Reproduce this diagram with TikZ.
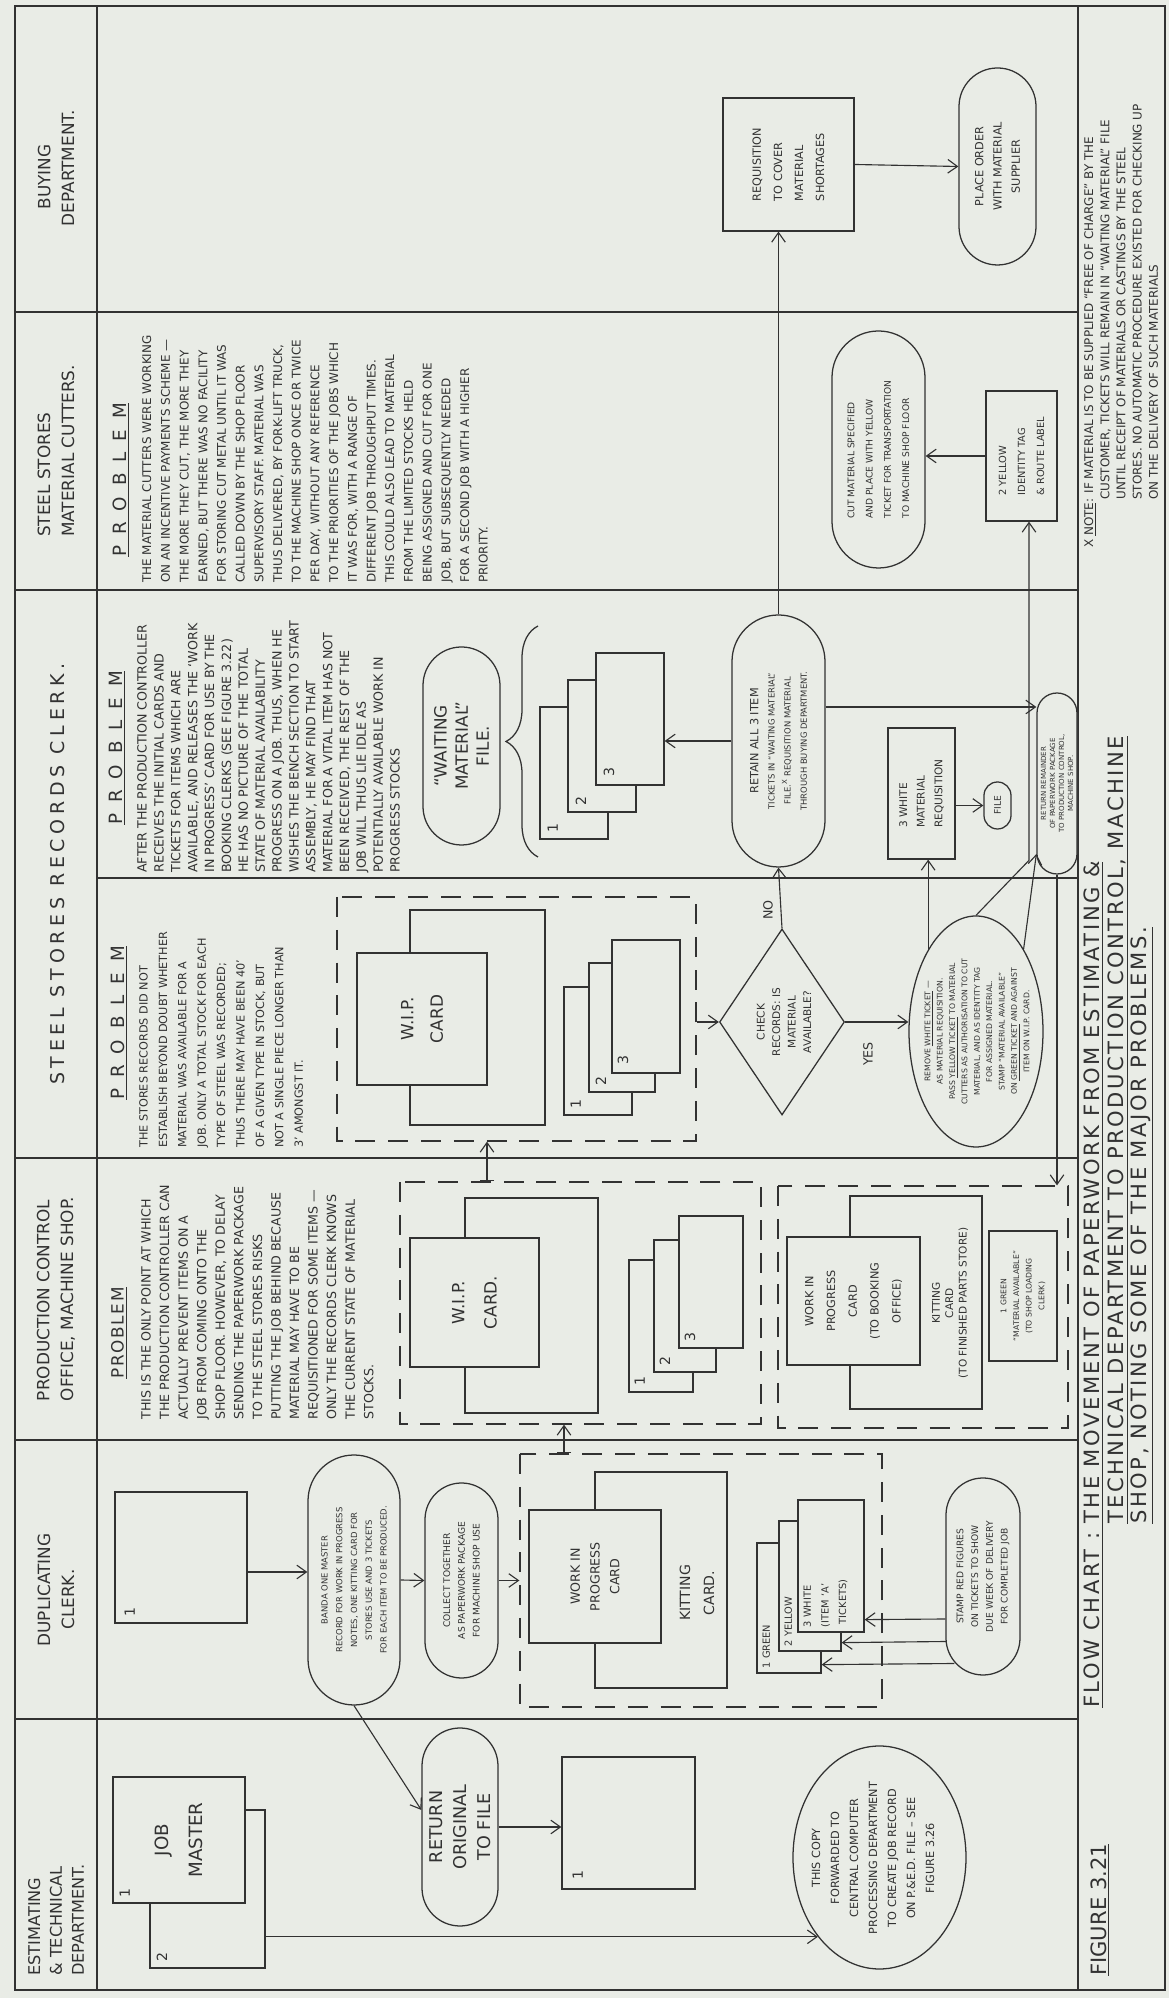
\documentclass[tikz,border=0pt]{standalone}
\usepackage{fontspec}
\setmainfont{DejaVu Sans}
\usetikzlibrary{arrows.meta,calc,shapes.geometric,shapes.misc,decorations.pathreplacing}
\definecolor{paper}{RGB}{233,236,230}
\definecolor{ink}{RGB}{50,50,50}
\newcommand{\fsz}[2]{\fontsize{#1}{#2}\selectfont}
\tikzset{
  wh/.style 2 args={minimum width=#1*0.25mm,minimum height=#2*0.25mm},
  card/.style={draw=ink,fill=paper,line width=0.9pt,inner sep=0pt,text=ink,align=center},
  dbox/.style={draw=ink,line width=0.9pt,dash pattern=on 5mm off 3.2mm,inner sep=0pt},
  pill/.style={rounded rectangle,draw=ink,fill=paper,line width=0.9pt,inner sep=0pt,
    text=ink,align=center},
  oval/.style={ellipse,draw=ink,fill=paper,line width=0.9pt,inner sep=0pt},
  gem/.style={diamond,draw=ink,fill=paper,line width=0.9pt,inner sep=0pt},
  txt/.style={text=ink,inner sep=0pt,align=left},
  ctxt/.style={text=ink,inner sep=0pt,align=center},
  num/.style={text=ink,inner sep=0pt,font=\fsz{10}{12}},
  head/.style={text=ink,inner sep=0pt,align=left,font=\fsz{12}{17}},
  probhead/.style={text=ink,inner sep=0pt,font=\fsz{13}{15}\addfontfeatures{LetterSpace=60}},
  frame/.style={draw=ink,line width=0.9pt},
  arr/.style={draw=ink,line width=0.8pt,-{Straight Barb[length=2.4mm,width=3.4mm]}},
  barr/.style={draw=ink,line width=0.8pt,
    {Bar[width=3.6mm]}-{Straight Barb[length=2.4mm,width=3.4mm]}},
}

\begin{document}
\begin{tikzpicture}[x=0.25mm,y=-0.25mm]
\begin{scope}[rotate=90,transform shape]
  \fill[paper] (0,0) rectangle (1998,1169);
  % lanes
  \draw[frame] (8,15) rectangle (1992,1165);
  \draw[frame] (8,97) -- (1992,97) (8,1078) -- (1992,1078);
  \foreach \x in {279,558,840,1408,1686} \draw[frame] (\x,15) -- (\x,1078);
  \draw[frame] (1120,97) -- (1120,1078);

  \node[head,anchor=west,font=\fsz{11.5}{15.5}] (hest) at (22,56) {ESTIMATING\\\& TECHNICAL\\DEPARTMENT.};
  \node[head] (hdup) at (408,56) {DUPLICATING\\\quad CLERK.};
  \node[head] (hpc) at (699,56) {PRODUCTION CONTROL\\OFFICE, MACHINE SHOP.};
  \node[head,font=\fsz{13.5}{16}\addfontfeatures{LetterSpace=25}] (hss) at (1124,58)
    {STEEL STORES RECORDS CLERK.};
  \node[head] (hmc) at (1547,56) {STEEL STORES\\MATERIAL CUTTERS.};
  \node[head] (hbuy) at (1830,56) {\quad BUYING\\DEPARTMENT.};

  % problems
  \node[probhead,font=\fsz{12}{14}\addfontfeatures{LetterSpace=10}] (ppc) at (665,119) {\underline{PROBLEM}};
  \node[probhead] (pss) at (975,119) {\underline{PROBLEM}};
  \node[probhead] (prc) at (1250,117) {\underline{PROBLEM}};
  \node[probhead] (pmc) at (1518,121) {\underline{PROBLEM}};

  \node[txt,anchor=north west,font=\fsz{9}{13.2}] (tpc) at (578,141) {THIS IS THE ONLY POINT AT WHICH\\
    THE PRODUCTION CONTROLLER CAN\\ACTUALLY PREVENT ITEMS ON A\\JOB FROM COMING ONTO THE\\
    SHOP FLOOR. HOWEVER, TO DELAY\\SENDING THE PAPERWORK PACKAGE\\TO THE STEEL STORES RISKS\\
    PUTTING THE JOB BEHIND BECAUSE\\MATERIAL MAY HAVE TO BE\\REQUISITIONED FOR SOME ITEMS ---\\
    ONLY THE RECORDS CLERK KNOWS\\THE CURRENT STATE OF MATERIAL\\STOCKS.};
  \node[txt,anchor=north west,font=\fsz{8}{13.8}] (tss) at (850,139) {THE STORES RECORDS DID NOT\\
    ESTABLISH BEYOND DOUBT WHETHER\\MATERIAL WAS AVAILABLE FOR A\\JOB. ONLY A TOTAL STOCK FOR EACH\\
    TYPE OF STEEL WAS RECORDED;\\THUS THERE MAY HAVE BEEN 40'\\OF A GIVEN TYPE IN STOCK, BUT\\
    NOT A SINGLE PIECE LONGER THAN\\3' AMONGST IT.};
  \node[txt,anchor=north west,font=\fsz{9}{12}] (trc) at (1125,137) {AFTER THE PRODUCTION CONTROLLER\\
    RECEIVES THE INITIAL CARDS AND\\TICKETS FOR ITEMS WHICH ARE\\AVAILABLE, AND RELEASES THE `WORK\\
    IN PROGRESS' CARD FOR USE BY THE\\BOOKING CLERKS (SEE FIGURE 3.22)\\HE HAS NO PICTURE OF THE TOTAL\\
    STATE OF MATERIAL AVAILABILITY\\PROGRESS ON A JOB. THUS, WHEN HE\\WISHES THE BENCH SECTION TO START\\
    ASSEMBLY, HE MAY FIND THAT\\MATERIAL FOR A VITAL ITEM HAS NOT\\BEEN RECEIVED, THE REST OF THE\\
    JOB WILL THUS LIE IDLE AS\\POTENTIALLY AVAILABLE WORK IN\\PROGRESS STOCKS};
  \node[txt,anchor=north west,font=\fsz{8.5}{13.3}] (tmc) at (1415,142) {THE MATERIAL CUTTERS WERE WORKING\\
    ON AN INCENTIVE PAYMENTS SCHEME ---\\THE MORE THEY CUT, THE MORE THEY\\
    EARNED, BUT THERE WAS NO FACILITY\\FOR STORING CUT METAL UNTIL IT WAS\\CALLED DOWN BY THE SHOP FLOOR\\
    SUPERVISORY STAFF. MATERIAL WAS\\THUS DELIVERED, BY FORK-LIFT TRUCK,\\TO THE MACHINE SHOP ONCE OR TWICE\\
    PER DAY, WITHOUT ANY REFERENCE\\TO THE PRIORITIES OF THE JOBS WHICH\\IT WAS FOR, WITH A RANGE OF\\
    DIFFERENT JOB THROUGHPUT TIMES.\\THIS COULD ALSO LEAD TO MATERIAL\\FROM THE LIMITED STOCKS HELD\\
    BEING ASSIGNED AND CUT FOR ONE\\JOB, BUT SUBSEQUENTLY NEEDED\\FOR A SECOND JOB WITH A HIGHER\\PRIORITY.};

  % estimating & technical department
  \node[card,wh={158}{115}] (jobback) at (109,207.5) {};
  \node[card,wh={126}{132},font=\fsz{13}{24}] (jobfront) at (158,179) {JOB\\MASTER};
  \node[num,anchor=north west] (jobn1) at ($(jobfront.north west)+(6,7)$) {1};
  \node[num,anchor=north west] (jobn2) at ($(jobback.north west)+(7,7)$) {2};
  \node[pill,wh={198}{76},font=\fsz{12.5}{17}] (retorig) at (171,460) {RETURN\\ORIGINAL\\TO FILE};
  \node[card,wh={132}{133}] (filecopy) at (175,628.5) {};
  \node[num,anchor=north west] (filen1) at ($(filecopy.north west)+(10,11)$) {1};
  \node[oval,wh={223}{173}] (thiscopy) at (140.5,879.5) {};
  \node[ctxt,font=\fsz{8}{13.5}] (thistxt) at (140,873) {THIS COPY\\FORWARDED TO\\CENTRAL COMPUTER\\
    PROCESSING DEPARTMENT\\TO CREATE JOB RECORD\\ON P.\&E.D. FILE -- SEE\\FIGURE 3.26};

  % duplicating clerk
  \node[card,wh={131}{132}] (master) at (440.5,181) {};
  \node[num,anchor=north west] (mastn1) at ($(master.north west)+(7,10)$) {1};
  \node[pill,wh={250}{92},font=\fsz{6}{10.5}] (banda) at (418,354) {BANDA ONE MASTER\\
    RECORD FOR WORK IN PROGRESS\\NOTES, ONE KITTING CARD FOR\\STORES USE AND 3 TICKETS\\
    FOR EACH ITEM TO BE PRODUCED.};
  \node[pill,wh={195}{73},font=\fsz{6.5}{10.5}] (collect) at (417.5,461.5) {COLLECT TOGETHER\\
    AS PAPERWORK PACKAGE\\FOR MACHINE SHOP USE};
  \node[dbox,wh={253}{362}] (dupbox) at (417.5,701) {};
  \node[card,wh={216}{132}] (dupkit) at (418,661) {};
  \node[card,wh={133}{132},font=\fsz{9}{14}] (dupwip) at (421.5,595) {WORK IN\\PROGRESS\\CARD};
  \node[ctxt,font=\fsz{10}{17}] (dupkittxt) at (405,697) {KITTING\\CARD.};
  \node[card,wh={130}{64}] (tkg) at (390,789) {};
  \node[card,wh={130}{62}] (tky) at (412,810) {};
  \node[card,wh={132}{66}] (tkw) at (432,831) {};
  \node[txt,anchor=north west,font=\fsz{7}{9}] (tkgt) at ($(tkg.north west)+(5,6)$) {1 GREEN};
  \node[txt,anchor=north west,font=\fsz{7}{9}] (tkyt) at ($(tky.north west)+(5,6)$) {2 YELLOW};
  \node[txt,anchor=north west,font=\fsz{7}{12.5}] (tkwt) at ($(tkw.north west)+(5,6)$)
    {3 WHITE\\(ITEM `A'\\\ TICKETS)};
  \node[pill,wh={197}{74},font=\fsz{6.5}{10.5}] (stamp) at (421.5,983) {STAMP RED FIGURES\\
    ON TICKETS TO SHOW\\DUE WEEK OF DELIVERY\\FOR COMPLETED JOB};

  % production control office
  \node[dbox,wh={242}{361}] (pcbox) at (695,580.5) {};
  \node[card,wh={215}{133}] (pcback) at (692.5,531.5) {};
  \node[card,wh={129}{129},font=\fsz{12}{23}] (pcwip) at (695.5,474.5) {W.I.P.\\CARD.};
  \node[card,wh={132}{64}] (pc1) at (672,661) {};
  \node[card,wh={132}{62}] (pc2) at (692,685) {};
  \node[card,wh={132}{64}] (pc3) at (716,711) {};
  \node[num,anchor=north west] (pcn1) at ($(pc1.north west)+(7,6)$) {1};
  \node[num,anchor=north west] (pcn2) at ($(pc2.north west)+(7,6)$) {2};
  \node[num,anchor=north west] (pcn3) at ($(pc3.north west)+(7,6)$) {3};
  \node[dbox,wh={242}{290}] (pclow) at (691,923) {};
  \node[card,wh={213}{132}] (pclkit) at (695.5,916) {};
  \node[card,wh={128}{133},font=\fsz{8}{15.5}] (pclwip) at (697,853.5)
    {WORK IN\\PROGRESS\\CARD\\(TO BOOKING\\OFFICE)};
  \node[ctxt,font=\fsz{7.5}{9.5}] (pclkittxt) at (695,950) {KITTING\\CARD\\(TO FINISHED PARTS STORE)};
  \node[card,wh={130}{68},font=\fsz{5.5}{9}] (pcgreen) at (702,1023)
    {1 GREEN\\``MATERIAL AVAILABLE''\\(TO SHOP LOADING\\CLERK)};

  % steel stores records clerk
  \node[dbox,wh={244}{359}] (ssbox) at (979,516.5) {};
  \node[card,wh={215}{135}] (ssback) at (980.5,477.5) {};
  \node[card,wh={132}{130},font=\fsz{12}{21}] (sswip) at (979,422) {W.I.P.\\CARD};
  \node[card,wh={128}{68}] (ss1) at (947,598) {};
  \node[card,wh={129}{66}] (ss2) at (970.5,622) {};
  \node[card,wh={133}{68}] (ss3) at (991.5,646) {};
  \node[num,anchor=north west] (ssn1) at ($(ss1.north west)+(7,7)$) {1};
  \node[num,anchor=north west] (ssn2) at ($(ss2.north west)+(7,7)$) {2};
  \node[num,anchor=north west] (ssn3) at ($(ss3.north west)+(9,6)$) {3};
  \node[gem,wh={186}{125}] (check) at (976,782) {};
  \node[ctxt,font=\fsz{7.5}{11}] (checktxt) at (976,784) {CHECK\\RECORDS: IS\\MATERIAL\\AVAILABLE?};
  \node[ctxt,font=\fsz{9}{11}] (nolab) at (1088,768) {NO};
  \node[ctxt,font=\fsz{9}{11}] (yeslab) at (944,868) {YES};
  \node[oval,wh={231}{134}] (remove) at (966.5,976) {};
  \node[ctxt,font=\fsz{5.5}{8.8}] (removetxt) at (966.5,977) {REMOVE \underline{WHITE TICKET} ---\\
    AS MATERIAL REQUISITION.\\PASS \underline{YELLOW TICKET} TO MATERIAL\\CUTTERS AS AUTHORISATION TO CUT\\
    MATERIAL, AND AS IDENTITY TAG\\FOR ASSIGNED MATERIAL.\\STAMP ``MATERIAL AVAILABLE''\\
    ON \underline{GREEN TICKET} AND AGAINST\\ITEM ON W.I.P. CARD.};

  \node[pill,wh={198}{77},font=\fsz{12}{15}] (waitfile) at (1252,461.5) {``WAITING\\MATERIAL''\\FILE.};
  \draw[frame,decorate,decoration={brace,amplitude=8mm}] (1141,538) -- (1372,538);
  \node[card,wh={132}{68}] (wf1) at (1225,574) {};
  \node[card,wh={132}{68}] (wf2) at (1252,602) {};
  \node[card,wh={132}{68}] (wf3) at (1279,630) {};
  \node[num,anchor=north west] (wfn1) at ($(wf1.north west)+(7,8)$) {1};
  \node[num,anchor=north west] (wfn2) at ($(wf2.north west)+(7,8)$) {2};
  \node[num,anchor=north west] (wfn3) at ($(wf3.north west)+(9,8)$) {3};
  \node[pill,wh={252}{93},font=\fsz{6}{11.5}] (retain) at (1257,778.5) {{\fsz{8}{11.5}RETAIN ALL 3 ITEM}\\
    TICKETS IN ``WAITING MATERIAL''\\FILE.\textsuperscript{X} REQUISITION MATERIAL\\THROUGH BUYING DEPARTMENT.};
  \node[card,wh={131}{67},font=\fsz{7.5}{12.5},align=left] (white) at (1204.5,921.5)
    {3 WHITE\\MATERIAL\\REQUISITION};
  \node[pill,wh={47}{27},font=\fsz{6.5}{8}] (file) at (1192.5,997.5) {FILE};
  \node[pill,wh={181}{40},font=\fsz{5}{6.4}] (retrem) at (1214.5,1057) {RETURN REMAINDER\\
    OF PAPERWORK PACKAGE\\TO PRODUCTION CONTROL,\\MACHINE SHOP.};

  % material cutters
  \node[pill,wh={237}{93},font=\fsz{6.5}{13},align=left] (cut) at (1548.5,878.5) {CUT MATERIAL SPECIFIED\\
    AND PLACE WITH YELLOW\\TICKET FOR TRANSPORTATION\\TO MACHINE SHOP FLOOR};
  \node[card,wh={130}{71},font=\fsz{7}{13.5},align=left] (yelltag) at (1542,1021.5)
    {2 YELLOW\\IDENTITY TAG\\\& ROUTE LABEL};

  % buying department
  \node[card,wh={133}{131},font=\fsz{8}{15},align=left] (requis) at (1833.5,788.5)
    {REQUISITION\\TO COVER\\MATERIAL\\SHORTAGES};
  \node[pill,wh={197}{77},font=\fsz{8}{13}] (order) at (1831.5,997.5) {PLACE ORDER\\WITH MATERIAL\\SUPPLIER};

  % caption strip
  \node[txt,anchor=west,font=\fsz{15}{17}] (fig) at (22,1100) {\underline{FIGURE 3.21}};
  \node[txt,anchor=north west,font=\fsz{15}{16.5}\addfontfeatures{LetterSpace=12}] (cap) at (290,1084)
    {\underline{FLOW CHART : THE MOVEMENT OF PAPERWORK FROM ESTIMATING \&}\\
    \phantom{FLOW CHART : }\underline{TECHNICAL DEPARTMENT TO PRODUCTION CONTROL, MACHINE}\\
    \phantom{FLOW CHART : }\underline{SHOP, NOTING SOME OF THE MAJOR PROBLEMS.}};
  \node[txt,anchor=north west,font=\fsz{8.5}{11.5}] (note) at (1450,1084)
    {X \underline{NOTE}: IF MATERIAL IS TO BE SUPPLIED ``FREE OF CHARGE'' BY THE\\
    \hspace*{12mm}CUSTOMER, TICKETS WILL REMAIN IN ``WAITING MATERIAL'' FILE\\
    \hspace*{12mm}UNTIL RECEIPT OF MATERIALS OR CASTINGS BY THE STEEL\\
    \hspace*{12mm}STORES. NO AUTOMATIC PROCEDURE EXISTED FOR CHECKING UP\\
    \hspace*{12mm}ON THE DELIVERY OF SUCH MATERIALS};

  % flow
  \draw[arr] (thiscopy.north west |- jobback.south) -- (thiscopy.north west);
  \draw[arr] (retorig.south) -- (retorig.south |- filecopy.north);
  \draw[arr] ($(master.south)+(-14.5,0)$) -- ($(banda.north)+(8,0)$);
  \draw[arr] (banda.south) -- (collect.north);
  \draw[arr] (collect.south) -- (dupbox.north);
  \draw[arr] (banda.west) -- ($(retorig.north)+(17,0)$);
  \draw[arr] ($(stamp.north)+(-87,9)$) -- ($(tkg.south west)+(9,0)$);
  \draw[arr] ($(stamp.north)+(-65,1)$) -- ($(tky.south west)+(9,0)$);
  \draw[arr] ($(stamp.north)+(-42.5,0)$) -- ($(tkw.south west)+(13,0)$);
  \draw[barr] ($(dupbox.east)+(0,-137)$) -- ($(pcbox.west)+(0,-16.5)$);
  \draw[barr] ($(pcbox.east)+(0,-93.5)$) -- ($(ssbox.west)+(0,-29.5)$);
  \draw[arr] (check.north |- ssbox.south) -- (check.north);
  \draw[arr] (check.east) -- (retain.west);
  \draw[arr] (check.south) -- (check.south |- remove.north);
  \draw[arr] (retain.north) -- (retain.north |- wf3.south);
  \draw[arr] (retain.east) -- (requis.west |- retain.east);
  \draw[arr] (requis.south) -- (order.north);
  \draw[arr] (remove.north east) -- (white.west |- remove.north east);
  \draw[arr] (file.north |- white.south) -- (file.north);
  \draw[arr] (remove.east) -- ++(55,53) coordinate (yb) -- (yelltag.west |- yb);
  \draw[arr] (remove.-30) -- (retrem.north west);
  \draw[arr] ($(retain.south)+(34,0)$) -- ($(retrem.north)+(76.5,0)$);
  \draw[arr] (retrem.west) -- (pclow.east |- retrem.west);
  \draw[arr] (yelltag.north) -- (yelltag.north |- cut.south);
\end{scope}
\end{tikzpicture}
\end{document}
